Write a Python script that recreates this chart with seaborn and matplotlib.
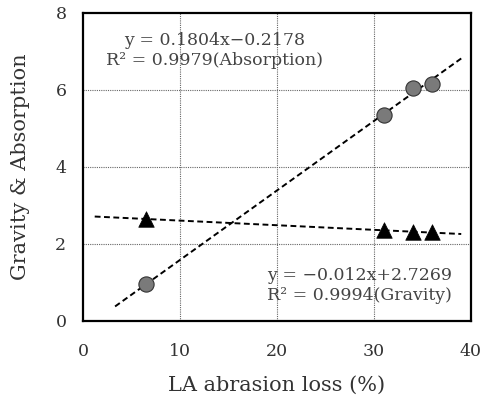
import matplotlib
matplotlib.use("Agg")
import matplotlib.pyplot as plt
import seaborn as sns
import numpy as np

sns.set_style("white")
plt.rcParams['font.family'] = ['DejaVu Serif']

# LA abrasion loss (%) per sample
abrasion = [6.5, 31.0, 34.0, 36.0]
absorption = [0.97, 5.35, 6.05, 6.15]
gravity = [2.65, 2.35, 2.31, 2.30]

# fitted lines (coefficients from the chart labels) and drawn x-range
abs_coef = (0.1804, -0.2178)
grav_coef = (-0.012, 2.7269)
abs_range = [3.3, 39.0]
grav_range = [1.2, 39.0]

fig = plt.figure(figsize=(4.83, 3.98), dpi=100)
ax = fig.add_axes([0.172, 0.1935, 0.803, 0.774])

# trend lines
xa = np.array(abs_range)
xg = np.array(grav_range)
sns.lineplot(x=xa, y=abs_coef[0] * xa + abs_coef[1], ax=ax, color='black',
             linestyle=(0, (3, 1.8)), linewidth=1.4, zorder=2)
sns.lineplot(x=xg, y=grav_coef[0] * xg + grav_coef[1], ax=ax, color='black',
             linestyle=(0, (3, 1.8)), linewidth=1.4, zorder=2)

# data points
sns.scatterplot(x=abrasion, y=absorption, ax=ax, marker='o', s=120,
                color='#7a7a7a', edgecolor='#333333', linewidth=0.8, zorder=3)
sns.scatterplot(x=abrasion, y=gravity, ax=ax, marker='^', s=125,
                color='black', edgecolor='black', linewidth=0.5, zorder=3)

ax.set_xlim(0, 40)
ax.set_ylim(0, 8)
ax.set_xticks([0, 10, 20, 30, 40])
ax.set_yticks([0, 2, 4, 6, 8])
ax.tick_params(axis='x', length=0, labelsize=12.5, labelcolor='#333333', pad=16)
ax.tick_params(axis='y', length=0, labelsize=12.5, labelcolor='#333333', pad=12)

# dotted grid only at inner ticks
for xv in [10, 20, 30]:
    ax.axvline(xv, color='#666666', linestyle=(0, (1, 1)), linewidth=0.8, zorder=1)
for yv in [2, 4, 6]:
    ax.axhline(yv, color='#666666', linestyle=(0, (1, 1)), linewidth=0.8, zorder=1)

for sp in ax.spines.values():
    sp.set_color('black')
    sp.set_linewidth(1.6)

ax.set_xlabel('LA abrasion loss (%)', fontsize=15, color='#333333', labelpad=11)
ax.set_ylabel('Gravity & Absorption', fontsize=15, color='#333333', labelpad=18)

ax.text(13.6, 7.02, 'y = 0.1804x\u22120.2178\nR\u00b2 = 0.9979(Absorption)',
        ha='center', va='center', fontsize=12.5, color='#444444',
        multialignment='center', linespacing=1.25)
ax.text(28.5, 0.92, 'y = \u22120.012x+2.7269\nR\u00b2 = 0.9994(Gravity)',
        ha='center', va='center', fontsize=12.5, color='#444444',
        multialignment='center', linespacing=1.25)

fig.savefig('out.png', dpi=100, facecolor='white')
plt.close(fig)
